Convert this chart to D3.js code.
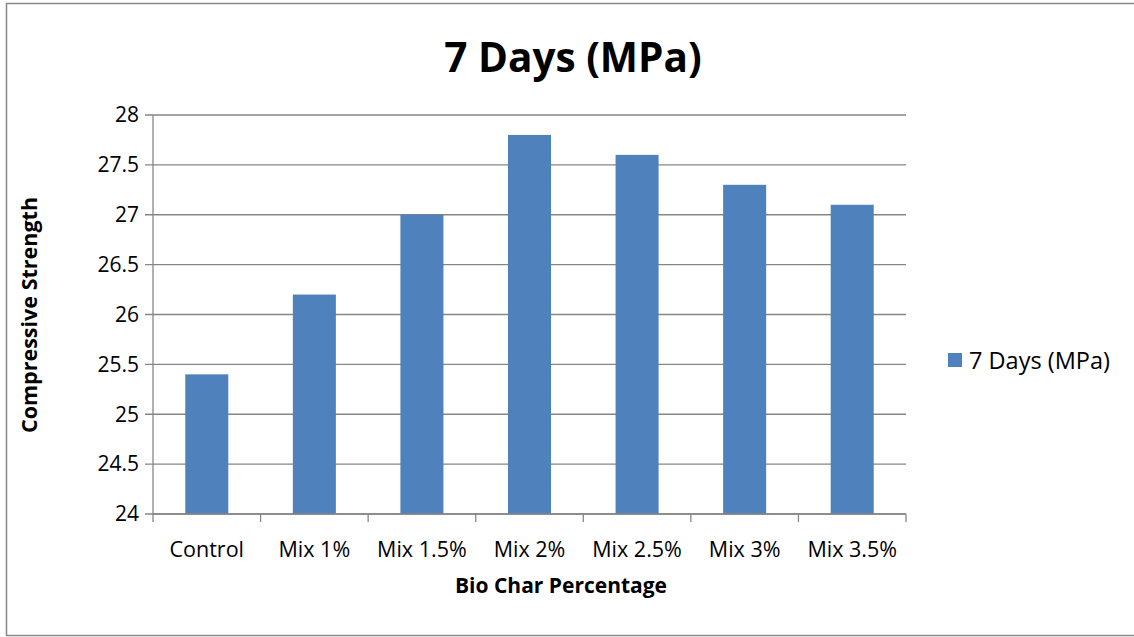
<!DOCTYPE html>
<html><head><meta charset="utf-8">
<script src="https://cdn.jsdelivr.net/npm/d3@7"></script>
<style>body{margin:0;background:#fff}svg{display:block}text{font-family:"Open Sans","Liberation Sans",sans-serif;fill:#000}</style>
</head><body><svg id="c" width="1134" height="637"></svg>
<script>
const categories = ["Control","Mix 1%","Mix 1.5%","Mix 2%","Mix 2.5%","Mix 3%","Mix 3.5%"];
const values = [25.4, 26.2, 27.0, 27.8, 27.6, 27.3, 27.1];
const yTicks = [24, 24.5, 25, 25.5, 26, 26.5, 27, 27.5, 28];
const seriesName = "7 Days (MPa)";
const titleText = "7 Days (MPa)";
const xTitle = "Bio Char Percentage";
const yTitle = "Compressive Strength";

const svg = d3.select("#c");
const L = 153, R = 906, T = 115, B = 514;
const color = "#4F81BD";

svg.append("rect").attr("x",6.5).attr("y",3.5).attr("width",1140).attr("height",632)
  .attr("fill","none").attr("stroke","#888").attr("stroke-width",1.5);

const x = d3.scaleBand().domain(categories).range([L,R]).paddingInner(0.6).paddingOuter(0.3);
const y = d3.scaleLinear().domain([24,28]).range([B,T]);

svg.append("g").selectAll("line").data(yTicks).join("line")
  .attr("x1",L-8).attr("x2",R).attr("y1",d=>y(d)).attr("y2",d=>y(d))
  .attr("stroke","#868686").attr("stroke-width",1.3);

svg.append("g").selectAll("rect").data(values).join("rect")
  .attr("x",(d,i)=>x(categories[i])).attr("width",x.bandwidth())
  .attr("y",d=>y(d)).attr("height",d=>B-y(d)).attr("fill",color);

svg.append("line").attr("x1",L).attr("x2",L).attr("y1",T).attr("y2",B)
  .attr("stroke","#868686").attr("stroke-width",1.3);
svg.append("line").attr("x1",L).attr("x2",R).attr("y1",B).attr("y2",B)
  .attr("stroke","#868686").attr("stroke-width",1.3);
const step = (R-L)/categories.length;
svg.append("g").selectAll("line").data(d3.range(categories.length+1)).join("line")
  .attr("x1",i=>L+i*step).attr("x2",i=>L+i*step).attr("y1",B).attr("y2",B+8)
  .attr("stroke","#868686").attr("stroke-width",1.3);

svg.append("g").selectAll("text").data(yTicks).join("text")
  .attr("x",139).attr("y",d=>y(d)).attr("dy","0.35em").attr("text-anchor","end")
  .attr("font-size",21).text(d=>d);
svg.append("g").selectAll("text").data(categories).join("text")
  .attr("x",d=>x(d)+x.bandwidth()/2).attr("y",557).attr("text-anchor","middle")
  .attr("font-size",21.5).text(d=>d);

svg.append("text").attr("x",573).attr("y",72).attr("text-anchor","middle")
  .attr("font-size",40.5).attr("font-weight","bold").text(titleText);
svg.append("text").attr("x",561).attr("y",593).attr("text-anchor","middle")
  .attr("font-size",21).attr("font-weight","bold").text(xTitle);
svg.append("text").attr("transform","translate(37,315) rotate(-90)").attr("text-anchor","middle")
  .attr("font-size",21.5).attr("font-weight","bold").text(yTitle);

svg.append("rect").attr("x",948).attr("y",353).attr("width",14).attr("height",14).attr("fill",color);
svg.append("text").attr("x",969).attr("y",361).attr("dy","0.35em").attr("font-size",23.5).text(seriesName);
</script></body></html>
